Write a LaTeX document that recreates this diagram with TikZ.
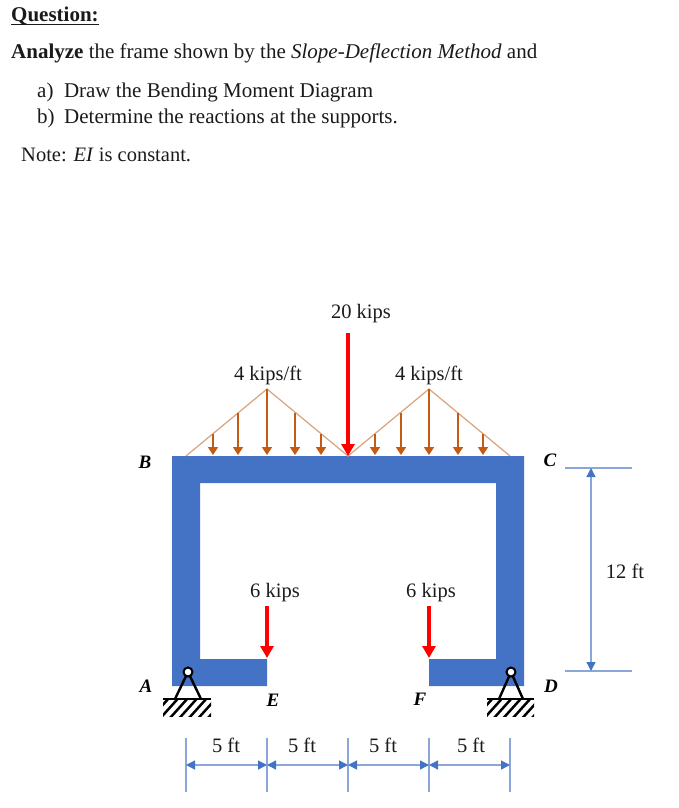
\documentclass[tikz,border=0pt]{standalone}
\usepackage{fontspec}
\setmainfont{Liberation Serif}
\usetikzlibrary{arrows.meta}
\definecolor{framec}{HTML}{4472C4}
\definecolor{dimc}{HTML}{8BA7D9}
\definecolor{loadc}{HTML}{C55A11}
\definecolor{triC}{HTML}{D9A27A}
\definecolor{txt}{HTML}{1A1A1A}
\tikzset{
 txtbase/.style={anchor=base,inner sep=0pt,text=txt},
 head/.style={txtbase,anchor=base west,font=\fontsize{21}{24}\selectfont},
 lab/.style={txtbase,font=\fontsize{20.5}{24}\selectfont},
 letter/.style={txtbase,font=\fontsize{19}{22}\selectfont\bfseries\itshape,text=black},
 dimline/.style={draw=dimc,line width=1.3pt},
 dimarrow/.style={dimline,{Triangle[length=9pt,width=9pt,fill=framec,color=framec]}-{Triangle[length=9pt,width=9pt,fill=framec,color=framec]}},
 redload/.style={draw=red,line width=3.8pt,-{Triangle[length=12pt,width=13pt,fill=red]}},
 udl/.style={draw=loadc,line width=1.7pt,-{Triangle[length=8pt,width=10pt,fill=loadc]}},
 tri/.style={draw=triC,line width=1.2pt},
 supp/.style={draw=black,line width=2.4pt},
}
\begin{document}
\begin{tikzpicture}[x=1pt,y=-1pt]
\useasboundingbox (0,0) rectangle (678,808);
% text
\node[head,font=\fontsize{21}{24}\selectfont\bfseries] (q) at (11,22) {Question:};
\draw[draw=txt,line width=1.3pt] ([yshift=-2.2pt]q.base west) -- ([yshift=-2.2pt]q.base east);
\node[head] (an) at (11,59) {\textbf{Analyze} the frame shown by the \textit{Slope-Deflection Method} and};
\node[head] (pa) at (37,97) {a)\ \ Draw the Bending Moment Diagram};
\node[head] (pb) at (37,123) {b)\ \ \kern-1pt Determine the reactions at the supports.};
\node[head,font=\fontsize{20.5}{24}\selectfont] (nt) at (21,161) {Note: \textit{EI} is constant.};
% frame
\fill[framec] (172,456) -- (524,456) -- (524,686) -- (429,686) -- (429,659) -- (496,659) -- (496,483)
  -- (200,483) -- (200,659) -- (267,659) -- (267,686) -- (172,686) -- cycle;
% triangular load
\coordinate (t0) at (186,456);
\coordinate (t1) at (267,389);
\coordinate (t2) at (348,456);
\coordinate (t3) at (429,389);
\coordinate (t4) at (510,456);
\draw[tri] (t0) -- (t1) -- (t2) -- (t3) -- (t4);
\foreach \x/\y in {213/434,238/413,267/389,295/413,321/434,375/434,401/413,429/389,458/413,483/434}{
  \coordinate (ua) at (\x,\y);
  \coordinate (ub) at (\x,455);
  \draw[udl] (ua) -- (ub);
}
% red loads
\coordinate (r1a) at (348,333); \coordinate (r1b) at (348,456);
\coordinate (r2a) at (267,606); \coordinate (r2b) at (267,658);
\coordinate (r3a) at (429,606); \coordinate (r3b) at (429,658);
\draw[redload] (r1a) -- (r1b);
\draw[redload] (r2a) -- (r2b);
\draw[redload] (r3a) -- (r3b);
% supports
\foreach \px/\l/\r/\gl/\gr in {188/175/201/163/211, 511/499/523/487/534}{
  \draw[supp,line join=round] (\l,699) -- (\px,672) -- (\r,699);
  \draw[supp] (\gl,699) -- (\gr,699);
  \begin{scope}
    \clip (\gl,699) rectangle (\gr,716);
    \foreach \k in {0,9.5,...,67}{
      \draw[draw=black,line width=2.5pt] (\gl-12+\k,718) -- (\gl+6+\k,698);
    }
  \end{scope}
  \draw[draw=black,line width=2pt,fill=white] (\px,672) circle (4.5pt);
}
% letters
\node[letter] (B) at (145,468) {B};
\node[letter] (C) at (550,466) {C};
\node[letter] (A) at (146,692) {A};
\node[letter] (D) at (551,692) {D};
\node[letter] (E) at (273,706) {E};
\node[letter] (F) at (420,705) {F};
% labels
\node[lab] (l20) at (361,318) {20 kips};
\node[lab] (l4a) at (268,380) {4 kips/ft};
\node[lab] (l4b) at (429,380) {4 kips/ft};
\node[lab] (l6a) at (275,597) {6 kips};
\node[lab] (l6b) at (431,597) {6 kips};
\node[lab] (l12) at (625,578) {12 ft};
\node[lab] (d1) at (226,752) {5 ft};
\node[lab] (d2) at (302,752) {5 ft};
\node[lab] (d3) at (383,752) {5 ft};
\node[lab] (d4) at (471,752) {5 ft};
% dimensions
\foreach \n/\x in {0/186,1/267,2/348,3/429,4/510}{
  \coordinate (ta\n) at (\x,738);
  \coordinate (tb\n) at (\x,792);
  \coordinate (m\n) at (\x,765);
  \draw[dimline] (ta\n) -- (tb\n);
}
\draw[dimarrow] (m0) -- (m1);
\draw[dimarrow] (m1) -- (m2);
\draw[dimarrow] (m2) -- (m3);
\draw[dimarrow] (m3) -- (m4);
\coordinate (hca) at (565,468); \coordinate (hcb) at (632,468);
\coordinate (hda) at (565,671); \coordinate (hdb) at (632,671);
\coordinate (va) at (591,468); \coordinate (vb) at (591,671);
\draw[dimline] (hca) -- (hcb);
\draw[dimline] (hda) -- (hdb);
\draw[dimarrow] (va) -- (vb);
\end{tikzpicture}
\end{document}
